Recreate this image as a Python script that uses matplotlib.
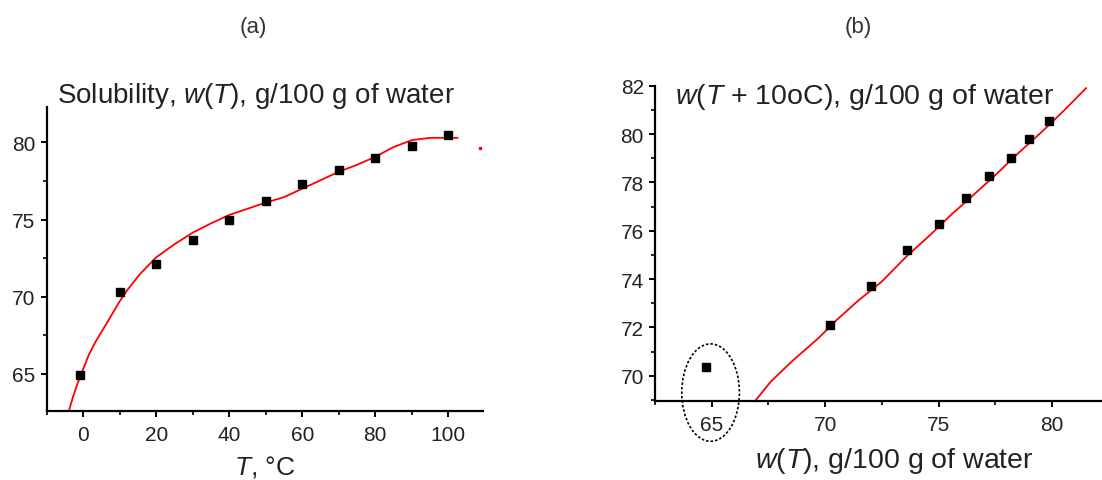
import matplotlib
matplotlib.use("Agg")
import matplotlib.pyplot as plt
from matplotlib.patches import Ellipse
from matplotlib.ticker import MultipleLocator

# ---- data (a) ----
T_data = [-1, 10, 20, 30, 40, 50, 60, 70, 80, 90, 100]
w_data = [64.9, 70.3, 72.1, 73.7, 75.0, 76.2, 77.3, 78.2, 79.0, 79.8, 80.5]
curve_a_T = [-3.9, -2.8, -1.5, 0, 1.5, 3.2, 6, 8, 10, 12, 15.5, 20, 25, 30, 35, 40, 45, 50, 55, 60, 65, 70, 75, 80, 85, 90, 95, 102.5]
curve_a_w = [62.6, 63.5, 64.4, 65.3, 66.2, 67.0, 68.1, 68.9, 69.7, 70.4, 71.45, 72.55, 73.4, 74.15, 74.75, 75.3, 75.7, 76.1, 76.45, 77.0, 77.55, 78.1, 78.55, 79.07, 79.7, 80.15, 80.3, 80.3]
stray_T = [108.6]
stray_w = [79.66]

# ---- data (b) ----
wT = [64.75, 70.2, 72.0, 73.6, 75.0, 76.2, 77.2, 78.2, 79.0, 79.85]
wT10 = [70.35, 72.1, 73.73, 75.2, 76.27, 77.36, 78.27, 79.0, 79.8, 80.53]
curve_b_x = [66.9, 67.6, 68.6, 69.7, 70.5, 71.45, 72.5, 73.6, 74.6, 75.6, 76.5, 77.5, 78.5, 79.5, 80.5, 81.5]
curve_b_y = [68.94, 69.75, 70.65, 71.55, 72.3, 73.1, 73.9, 74.95, 75.8, 76.7, 77.45, 78.3, 79.2, 80.05, 80.95, 81.9]

xticks_a = [0, 20, 40, 60, 80, 100]
yticks_a = [65, 70, 75, 80]
xticks_b = [65, 70, 75, 80]
yticks_b = [70, 72, 74, 76, 78, 80, 82]

plt.rcParams['font.family'] = ['Liberation Sans', 'DejaVu Sans']
plt.rcParams['mathtext.fontset'] = 'custom'
plt.rcParams['mathtext.rm'] = 'Liberation Sans'
plt.rcParams['mathtext.it'] = 'Liberation Sans:italic'

fig = plt.figure(figsize=(11.02, 4.81), dpi=100)
W, H = 1102, 481

def px_axes(l, t, r, b):
    return fig.add_axes([l / W, 1 - b / H, (r - l) / W, (b - t) / H])

axa = px_axes(46.7, 108, 483, 411.7)
axb = px_axes(655, 86.7, 1102, 402.3)

TXT = '#222222'
for ax in (axa, axb):
    for s in ('top', 'right'):
        ax.spines[s].set_visible(False)
    for s in ('left', 'bottom'):
        ax.spines[s].set_linewidth(1.6)
        ax.spines[s].set_color('black')
    ax.tick_params(which='major', direction='out', length=4, width=1.4, labelsize=15, colors='black', labelcolor=TXT)
    ax.tick_params(which='minor', direction='out', length=3, width=1.2, colors='black')
    ax.tick_params(axis='x', pad=6)
    ax.tick_params(axis='y', pad=4)

# (a)
axa.plot(curve_a_T, curve_a_w, color='red', lw=1.3, clip_on=False)
axa.plot(stray_T, stray_w, 's', color='red', ms=1.5, clip_on=False)
axa.plot(T_data, w_data, 's', color='black', ms=5.5, clip_on=False)
axa.set_xlim(-10, 109.5)
axa.set_ylim(62.6, 82.3)
axa.set_xticks(xticks_a)
axa.set_yticks(yticks_a)
axa.xaxis.set_minor_locator(MultipleLocator(10))
axa.yaxis.set_minor_locator(MultipleLocator(2.5))

# (b)
axb.plot(curve_b_x, curve_b_y, color='red', lw=1.3, clip_on=False)
axb.plot(wT, wT10, 's', color='black', ms=5.5, clip_on=False)
axb.set_xlim(62.5, 82.2)
axb.set_ylim(68.94, 82)
axb.set_xticks(xticks_b)
axb.set_yticks(yticks_b)
axb.xaxis.set_minor_locator(MultipleLocator(2.5))
axb.yaxis.set_minor_locator(MultipleLocator(1))
ell = Ellipse((64.95, 69.3), width=2.54, height=4.03, fill=False, ec='black', lw=1.2, ls=(0, (1.5, 1.2)), clip_on=False)
axb.add_patch(ell)

# texts
fig.text(253 / W, 1 - 27 / H, '(a)', ha='center', va='center', fontsize=16, color='#333333')
fig.text(858 / W, 1 - 27 / H, '(b)', ha='center', va='center', fontsize=16, color='#333333')
fig.text(256 / W, 1 - 96 / H, 'Solubility, $w$($T$), g/100 g of water', ha='center', va='center', fontsize=20, color=TXT)
fig.text(865 / W, 1 - 97 / H, '$w$($T$ + 10oC), g/100 g of water', ha='center', va='center', fontsize=20.5, color=TXT)
fig.text(265 / W, 1 - 467 / H, '$T$, °C', ha='center', va='center', fontsize=19, color=TXT)
fig.text(894 / W, 1 - 461 / H, '$w$($T$), g/100 g of water', ha='center', va='center', fontsize=20.5, color=TXT)

fig.savefig('out.png', dpi=100)
